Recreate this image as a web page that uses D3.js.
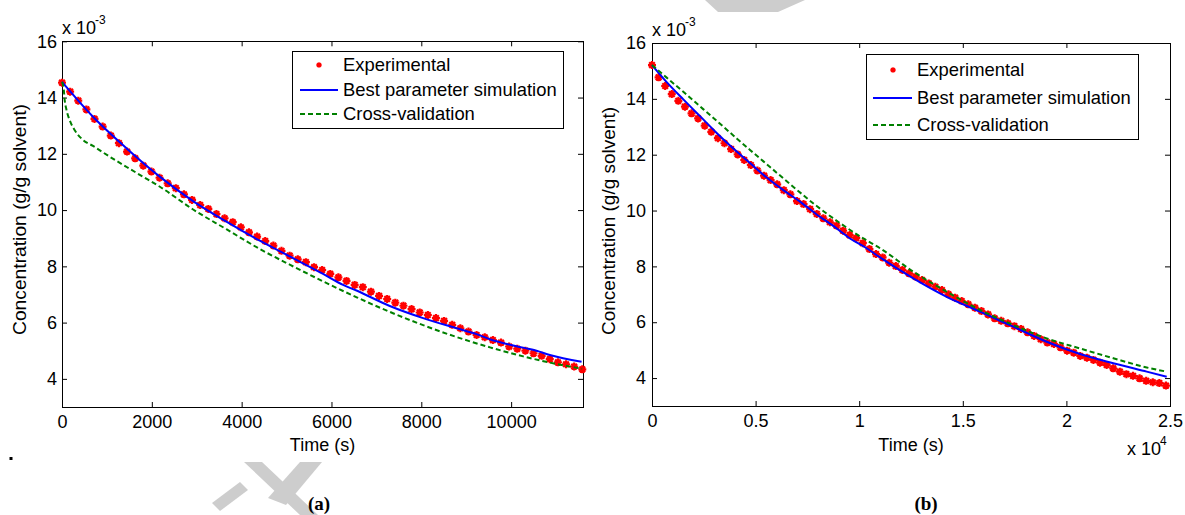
<!DOCTYPE html>
<html>
<head>
<meta charset="utf-8">
<script src="https://cdn.jsdelivr.net/npm/d3@7"></script>
<style>
  body { margin: 0; background: #fff; }
  svg text { font-family: Arial, "Liberation Sans", sans-serif; fill: #000; }
</style>
</head>
<body>
<svg id="chart" width="1185" height="515"></svg>
<script>
// ---- data, concentration in 1e-3 g/g solvent, time in s ----
// panel (a)
const timeExpA = [0,181,362,543,724,905,1086,1267,1448,1629,
  1810,1991,2172,2353,2534,2715,2896,3077,3258,3439,
  3620,3801,3982,4163,4344,4525,4706,4887,5068,5249,
  5430,5611,5792,5973,6154,6335,6516,6697,6878,7059,
  7240,7421,7602,7783,7964,8145,8326,8507,8688,8869,
  9050,9231,9412,9593,9774,9955,10136,10317,10498,10679,
  10860,11041,11222,11403,11584];
const concExpA = [14.53,14.21,13.89,13.58,13.24,12.97,12.65,12.38,12.08,11.84,
  11.58,11.37,11.15,10.95,10.78,10.56,10.36,10.18,10.04,9.86,
  9.71,9.57,9.39,9.21,9.06,8.90,8.74,8.55,8.38,8.25,
  8.15,7.97,7.87,7.73,7.61,7.48,7.34,7.26,7.10,6.95,
  6.84,6.71,6.60,6.48,6.36,6.27,6.16,6.06,5.92,5.80,
  5.68,5.56,5.48,5.38,5.29,5.15,5.07,5.00,4.91,4.82,
  4.70,4.59,4.52,4.44,4.34];
const timeBestA = [0,690,1434,2176,2918,3661,4403,5145,5813,6258,6557,7298,8040,8784,9229,9525,10267,10565,10862,11568];
const concBestA = [14.56,13.32,12.20,11.19,10.32,9.59,8.91,8.29,7.73,7.34,7.14,6.59,6.16,5.80,5.59,5.41,5.11,5.00,4.85,4.61];
const timeCrossA = [0,40,60,100,170,280,470,690,1060,1430,1800,2180,2920,3660,4400,5070,5810,6560,7300,8040,8780,9530,10270,11010,11580];
const concCrossA = [14.56,14.27,13.91,13.56,13.20,12.85,12.49,12.28,11.90,11.54,11.19,10.83,10.02,9.32,8.62,8.06,7.47,6.90,6.38,5.91,5.49,5.12,4.80,4.53,4.36];

// panel (b)
const timeExpB = [0,318,636,954,1272,1590,1908,2226,2544,2862,
  3180,3498,3816,4134,4452,4770,5088,5406,5724,6042,
  6360,6678,6996,7314,7632,7950,8268,8586,8904,9222,
  9540,9858,10176,10494,10812,11130,11448,11766,12084,12402,
  12720,13038,13356,13674,13992,14310,14628,14946,15264,15582,
  15900,16218,16536,16854,17172,17490,17808,18126,18444,18762,
  19080,19398,19716,20034,20352,20670,20988,21306,21624,21942,
  22260,22578,22896,23214,23532,23850,24168,24486,24804];
const concExpB = [15.21,14.77,14.46,14.17,13.93,13.72,13.48,13.30,13.04,12.82,
  12.59,12.41,12.20,12.01,11.81,11.63,11.43,11.25,11.09,10.94,
  10.73,10.58,10.34,10.23,10.05,9.88,9.72,9.58,9.46,9.28,
  9.12,9.01,8.83,8.62,8.44,8.32,8.13,8.01,7.87,7.75,
  7.63,7.51,7.39,7.27,7.15,7.00,6.88,6.76,6.64,6.52,
  6.40,6.28,6.14,6.05,5.96,5.86,5.76,5.64,5.51,5.39,
  5.27,5.22,5.10,4.98,4.91,4.79,4.73,4.65,4.55,4.47,
  4.35,4.23,4.14,4.08,3.99,3.90,3.85,3.82,3.73];
const timeBestB = [0,709,1511,2317,3122,3924,4730,5536,6337,7143,7949,8750,9556,10362,11004,12612,14223,15830,17438,19049,20656,22264,23876,24841];
const concBestB = [15.21,14.60,13.98,13.38,12.78,12.22,11.70,11.18,10.73,10.32,9.86,9.45,9.00,8.65,8.32,7.57,6.91,6.38,5.84,5.30,4.86,4.53,4.23,4.05];
const timeCrossB = [0,709,1511,2317,3122,3924,4730,5695,6660,7949,9073,10200,11004,12612,14223,15830,17438,19049,20656,22264,23876,24841];
const concCrossB = [15.21,14.76,14.25,13.73,13.21,12.69,12.17,11.56,10.95,10.16,9.55,9.00,8.65,7.81,7.09,6.44,5.90,5.42,5.06,4.71,4.38,4.23];

// ticks and labels
const concTicks = [4, 6, 8, 10, 12, 14, 16];
const timeTicksA = [0, 2000, 4000, 6000, 8000, 10000];
const timeTicksB = [0, 5000, 10000, 15000, 20000, 25000];
const legendLabels = ["Experimental", "Best parameter simulation", "Cross-validation"];
const panelTags = ["(a)", "(b)"];

const svg = d3.select("#chart");

//Watermark pieces showing around the figure
const grey = "#cdcdcd";
[
  [[244,462],[262,462],[318,515],[300,515]],
  [[300,462],[322,462],[286,505],[268,498]],
  [[212,503],[240,482],[248,490],[220,511]],
  [[705,0],[805,0],[778,12],[718,12]]
].forEach(pts => svg.append("polygon").attr("points", pts.map(p => p.join(",")).join(" ")).attr("fill", grey));

const asterisk = r => {
  const a = r * 0.7071;
  return `M${-r},0L${r},0M0,${-r}L0,${r}M${-a},${-a}L${a},${a}M${-a},${a}L${a},${-a}`;
};

function styleAxis(g) {
  g.attr("font-size", 18).attr("font-family", "Arial, 'Liberation Sans', sans-serif");
  g.select(".domain").remove();
  g.selectAll(".tick line").attr("stroke", "#000");
  g.selectAll(".tick text").attr("fill", "#000");
}

function drawPanel(p) {
  const x = d3.scaleLinear().domain([p.xTicks[0], p.xMax]).range([p.left, p.right]);
  const y = d3.scaleLinear().domain([3, 16]).range([p.bottom, p.top]);
  const g = svg.append("g");

  g.append("rect").attr("x", p.left).attr("y", p.top).attr("width", p.right - p.left).attr("height", p.bottom - p.top).attr("fill", "#fff");

  //Axes with inward ticks on all four sides
  g.append("g").attr("transform", `translate(0,${p.bottom})`)
    .call(d3.axisBottom(x).tickValues(p.xTicks).tickFormat(p.xFormat).tickSize(-5).tickSizeOuter(0).tickPadding(8)).call(styleAxis);
  g.append("g").attr("transform", `translate(0,${p.top})`)
    .call(d3.axisTop(x).tickValues(p.xTicks).tickFormat("").tickSize(-5).tickSizeOuter(0)).call(styleAxis);
  g.append("g").attr("transform", `translate(${p.left},0)`)
    .call(d3.axisLeft(y).tickValues(concTicks).tickSize(-5).tickSizeOuter(0).tickPadding(p.yPad)).call(styleAxis);
  g.append("g").attr("transform", `translate(${p.right},0)`)
    .call(d3.axisRight(y).tickValues(concTicks).tickFormat("").tickSize(-5).tickSizeOuter(0)).call(styleAxis);

  g.append("rect").attr("x", p.left).attr("y", p.top).attr("width", p.right - p.left).attr("height", p.bottom - p.top)
    .attr("fill", "none").attr("stroke", "#000").attr("stroke-width", 1).attr("shape-rendering", "crispEdges");

  //Experimental points
  g.selectAll(".exp").data(p.expT).enter().append("path")
    .attr("transform", (d, i) => `translate(${x(d)},${y(p.expC[i])})`)
    .attr("d", asterisk(4)).attr("stroke", "#ff0000").attr("stroke-width", 2.2).attr("fill", "none");

  const line = d3.line().x(d => x(d[0])).y(d => y(d[1])).curve(d3.curveMonotoneX);
  g.append("path").datum(p.bestT.map((t, i) => [t, p.bestC[i]])).attr("d", line)
    .attr("fill", "none").attr("stroke", "#0000ff").attr("stroke-width", 2);
  g.append("path").datum(p.crossT.map((t, i) => [t, p.crossC[i]])).attr("d", line)
    .attr("fill", "none").attr("stroke", "#008000").attr("stroke-width", 2).attr("stroke-dasharray", "5,3");

  //Axis labels
  g.append("text").attr("x", (p.left + p.right) / 2).attr("y", 451).attr("text-anchor", "middle").attr("font-size", 18).text("Time (s)");
  g.append("text").attr("transform", `translate(${p.yLabelX},${p.yLabelY}) rotate(-90)`).attr("text-anchor", "middle")
    .attr("font-size", 18).attr("textLength", p.yLabelLen).attr("lengthAdjust", "spacingAndGlyphs").text("Concentration (g/g solvent)");

  //Exponent marks
  g.append("text").attr("x", p.left).attr("y", p.top - 7).attr("font-size", 18).text("x 10");
  g.append("text").attr("x", p.left + 33).attr("y", p.top - 17).attr("font-size", 12).text("-3");
  if (p.xExp) {
    g.append("text").attr("x", p.right - 43).attr("y", 455).attr("font-size", 18).text("x 10");
    g.append("text").attr("x", p.right - 10).attr("y", 445).attr("font-size", 12).text(p.xExp);
  }

  //Legend
  const L = p.legend;
  g.append("rect").attr("x", L.x0).attr("y", L.y0).attr("width", L.x1 - L.x0).attr("height", L.y1 - L.y0)
    .attr("fill", "#fff").attr("stroke", "#000").attr("stroke-width", 1).attr("shape-rendering", "crispEdges");
  legendLabels.forEach((lab, i) => {
    const ly = L.rows[i];
    if (i === 0) {
      g.append("path").attr("transform", `translate(${L.mark},${ly})`).attr("d", asterisk(2.6))
        .attr("stroke", "#ff0000").attr("stroke-width", 2).attr("fill", "none");
    } else {
      g.append("line").attr("x1", L.lineX0).attr("x2", L.lineX1).attr("y1", ly).attr("y2", ly)
        .attr("stroke", i === 1 ? "#0000ff" : "#008000").attr("stroke-width", 2)
        .attr("stroke-dasharray", i === 2 ? "5,3" : null);
    }
    g.append("text").attr("x", L.text).attr("y", ly).attr("dy", "0.35em").attr("font-size", 18.4).text(lab);
  });

  //Panel tag
  svg.append("text").attr("x", p.tagX).attr("y", 510).attr("text-anchor", "middle")
    .style("font-family", "'Liberation Serif', 'Times New Roman', serif").attr("font-weight", "bold").attr("font-size", 19).text(p.tag);
}

drawPanel({
  left: 62, right: 583, top: 41.3, bottom: 407, xMax: 11600, xTicks: timeTicksA, xFormat: d => d, yPad: 5,
  expT: timeExpA, expC: concExpA, bestT: timeBestA, bestC: concBestA, crossT: timeCrossA, crossC: concCrossA,
  yLabelX: 26, yLabelY: 219.5, yLabelLen: 231,
  legend: { x0: 292, x1: 563, y0: 51, y1: 128, rows: [65, 90, 114], mark: 319, lineX0: 300, lineX1: 338, text: 343 },
  tag: panelTags[0], tagX: 319
});

drawPanel({
  left: 652, right: 1170, top: 43, bottom: 406, xMax: 25000, xTicks: timeTicksB, xFormat: d => d / 1e4, yPad: 6, xExp: "4",
  expT: timeExpB, expC: concExpB, bestT: timeBestB, bestC: concBestB, crossT: timeCrossB, crossC: concCrossB,
  yLabelX: 615, yLabelY: 221, yLabelLen: 228,
  legend: { x0: 866, x1: 1138, y0: 54, y1: 139, rows: [70, 98, 125], mark: 893, lineX0: 873, lineX1: 912, text: 917 },
  tag: panelTags[1], tagX: 926
});

//Stray period at the left margin
svg.append("rect").attr("x", 9.5).attr("y", 457).attr("width", 3).attr("height", 3).attr("fill", "#000");
</script>
</body>
</html>
